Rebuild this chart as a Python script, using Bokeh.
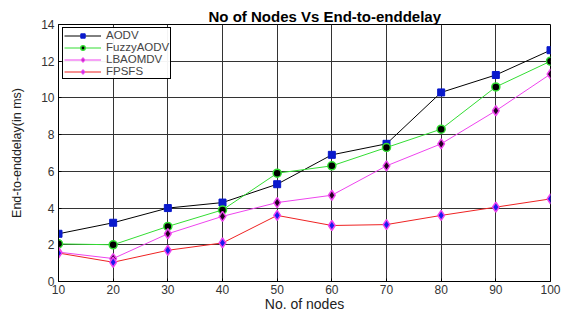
from bokeh.plotting import figure
from bokeh.models import Range1d, FixedTicker, Legend, LegendItem
from bokeh.embed import file_html
from bokeh.resources import INLINE

nodes = [10, 20, 30, 40, 50, 60, 70, 80, 90, 100]
aodv = [2.6, 3.2, 4.0, 4.3, 5.3, 6.9, 7.5, 10.3, 11.25, 12.6]
fuzzy = [2.05, 2.0, 3.0, 3.9, 5.9, 6.3, 7.3, 8.3, 10.6, 12.0]
lbaomdv = [1.6, 1.25, 2.6, 3.55, 4.3, 4.7, 6.3, 7.5, 9.3, 11.3]
fpsfs = [1.55, 1.05, 1.7, 2.1, 3.6, 3.05, 3.1, 3.6, 4.05, 4.5]
x_ticks = [10, 20, 30, 40, 50, 60, 70, 80, 90, 100]
y_ticks = [0, 2, 4, 6, 8, 10, 12, 14]

p = figure(width=566, height=316, output_backend="svg", toolbar_location=None,
           x_range=Range1d(10, 100), y_range=Range1d(0, 14),
           title="No of Nodes Vs End-to-enddelay",
           min_border_left=58, min_border_right=16, min_border_top=24, min_border_bottom=35)
p.background_fill_color = "white"
p.border_fill_color = "white"
p.outline_line_color = "black"
p.outline_line_width = 1

p.title.text_font = "Liberation Sans"
p.title.text_font_size = "15px"
p.title.text_font_style = "bold"
p.title.align = "left"
p.title.offset = 150
p.title.standoff = 0
p.title.text_color = "black"

for ax in (p.xaxis[0], p.yaxis[0]):
    ax.axis_line_color = "black"
    ax.major_tick_in = 3
    ax.major_tick_out = 0
    ax.minor_tick_line_color = None
    ax.major_label_text_font = "Liberation Sans"
    ax.major_label_text_font_size = "12px"
    ax.major_label_text_color = "#333333"
    ax.major_label_standoff = 4
    ax.axis_label_text_font = "Liberation Sans"
    ax.axis_label_text_font_style = "normal"
    ax.axis_label_text_color = "#222222"

p.xaxis.ticker = FixedTicker(ticks=x_ticks)
p.yaxis.ticker = FixedTicker(ticks=y_ticks)
p.xaxis.axis_label = "No. of nodes"
p.xaxis.axis_label_text_font_size = "14px"
p.xaxis.axis_label_standoff = -1
p.xaxis.major_label_standoff = 3
p.yaxis.axis_label = "End-to-enddelay(in ms)"
p.yaxis.axis_label_text_font_size = "12.5px"
p.yaxis.axis_label_standoff = 14

p.xgrid.ticker = FixedTicker(ticks=x_ticks)
p.ygrid.ticker = FixedTicker(ticks=y_ticks)
p.grid.grid_line_color = "#333333"
p.grid.grid_line_alpha = 1
p.grid.grid_line_width = 1

items = []
l1 = p.line(nodes, aodv, line_color="black", line_width=1)
m1 = p.scatter(nodes, aodv, marker="square", size=7, fill_color="#0a1acc", line_color="#0a1acc")
items.append(LegendItem(label="AODV", renderers=[l1, m1]))

l2 = p.line(nodes, fuzzy, line_color="#33dd33", line_width=1)
m2 = p.scatter(nodes, fuzzy, marker="circle", size=8, fill_color="black", line_color="#33dd33", line_width=1.5)
items.append(LegendItem(label="FuzzyAODV", renderers=[l2, m2]))

l3 = p.line(nodes, lbaomdv, line_color="#ee44ee", line_width=1)
m3 = p.scatter(nodes, lbaomdv, marker="diamond", size=10, fill_color="#220022", line_color="#ee44ee", line_width=1.5)
items.append(LegendItem(label="LBAOMDV", renderers=[l3, m3]))

l4 = p.line(nodes, fpsfs, line_color="#ee2222", line_width=1)
m4 = p.scatter(nodes, fpsfs, marker="diamond", size=10, fill_color="#1a1aee", line_color="#ee44ee", line_width=1.5)
items.append(LegendItem(label="FPSFS", renderers=[l4, m4]))

legend = Legend(items=items, location=(4, 202))
legend.border_line_color = "black"
legend.border_line_alpha = 1
legend.label_text_font = "Liberation Sans"
legend.label_text_font_size = "11.5px"
legend.label_height = 11
legend.glyph_height = 11
legend.glyph_width = 37
legend.spacing = 0
legend.padding = 1
legend.margin = 0
legend.label_standoff = 5
p.add_layout(legend)

open("out.html", "w").write(file_html(p, INLINE))
